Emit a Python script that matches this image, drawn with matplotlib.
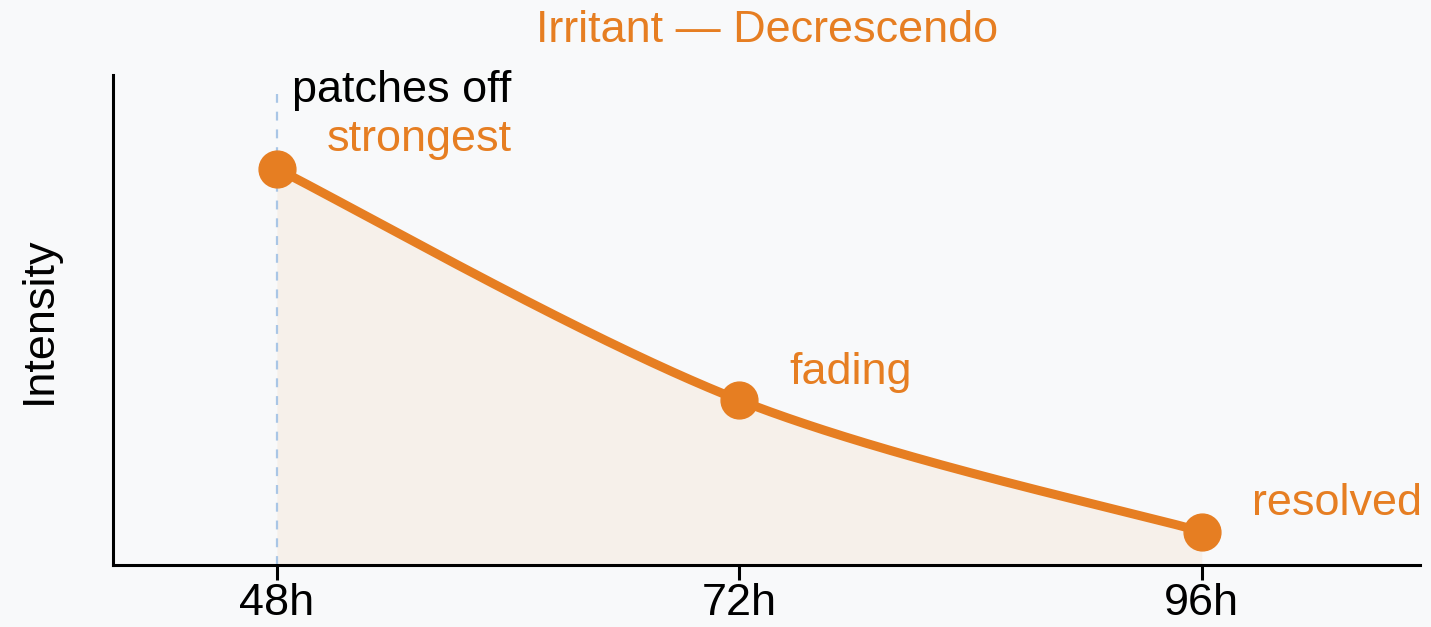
import numpy as np
import matplotlib.pyplot as plt

plt.rcParams['font.family'] = ['Liberation Sans', 'DejaVu Sans']

hours = [48, 72, 96]
tick_labels = ['48h', '72h', '96h']
intensity = [1.01, 0.42, 0.085]
point_labels = ['strongest', 'fading', 'resolved']

ORANGE = '#e67e22'
BG = '#f8f9fa'
FS = 32.4


def cardinal_curve(x, y, n=200):
    """Cardinal spline (tension 0) through the points, as cubic Bezier segments."""
    p = np.column_stack([x, y]).astype(float)
    ext = np.vstack([p[:1], p, p[-1:]])
    u = np.linspace(0, 1, n)[:, None]
    segs = []
    for i in range(len(p) - 1):
        p0, p3 = ext[i+1], ext[i+2]
        c1 = p0 + (ext[i+2] - ext[i]) / 6
        c2 = p3 - (ext[i+3] - ext[i+1]) / 6
        segs.append((1-u)**3*p0 + 3*(1-u)**2*u*c1 + 3*(1-u)*u**2*c2 + u**3*p3)
    pts = np.vstack(segs)
    return pts[:, 0], pts[:, 1]


fig = plt.figure(figsize=(14.31, 6.27), dpi=100)
fig.patch.set_facecolor(BG)
ax = fig.add_axes([0.079, 0.099, 0.913, 0.782])
ax.set_facecolor(BG)

cx, cy = cardinal_curve(hours, intensity)
ax.fill_between(cx, 0, cy, color=ORANGE, alpha=0.07, lw=0)
ax.plot([hours[0], hours[0]], [0, 1.2], color='#a9c6e6', lw=1.6, ls=(0, (4, 4)), zorder=1)
ax.plot(cx, cy, color=ORANGE, lw=6.5, solid_capstyle='round', zorder=3)
ax.plot(hours, intensity, 'o', color=ORANGE, ms=26.5, zorder=4)

# point labels
offsets = [(169, 21), (36, 20), (36, 20)]
aligns = ['right', 'left', 'left']
for h, v, lab, off, ha in zip(hours, intensity, point_labels, offsets, aligns):
    ax.annotate(lab, (h, v), xytext=off, textcoords='offset points',
                ha=ha, va='center', color=ORANGE, fontsize=FS)
ax.annotate('patches off', (hours[0], intensity[0]), xytext=(169, 56),
            textcoords='offset points', ha='right', va='center',
            color='black', fontsize=FS)

ax.set_xlim(39.5, 107.3)
ax.set_ylim(0, 1.25)
ax.set_xticks(hours)
ax.set_xticklabels(tick_labels, fontsize=FS)
ax.set_yticks([])
ax.tick_params(axis='x', length=11, width=2.2, pad=2)
ax.set_ylabel('Intensity', fontsize=FS, labelpad=38)
for side in ('top', 'right'):
    ax.spines[side].set_visible(False)
for side in ('left', 'bottom'):
    ax.spines[side].set_linewidth(2.2)

fig.text(0.536, 0.951, 'Irritant — Decrescendo', ha='center', va='center',
         color=ORANGE, fontsize=FS)

fig.savefig('out.png', dpi=100, facecolor=BG)
